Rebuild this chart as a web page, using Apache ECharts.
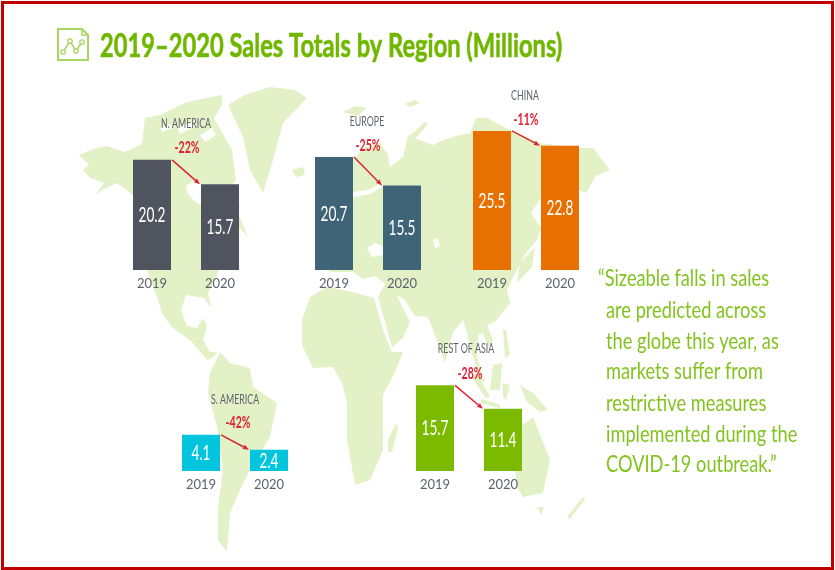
<!DOCTYPE html>
<html><head><meta charset="utf-8">
<style>html,body{margin:0;padding:0;background:#fff}#c{width:835px;height:570px}</style>
<script src="https://cdn.jsdelivr.net/npm/echarts@6/dist/echarts.min.js"></script>
</head><body><div id="c"></div>
<script>
var years = ['2019', '2020'];
var regions = ['N. AMERICA', 'EUROPE', 'CHINA', 'REST OF ASIA', 'S. AMERICA'];
var sales2019 = [20.2, 20.7, 25.5, 15.7, 4.1];
var sales2020 = [15.7, 15.5, 22.8, 11.4, 2.4];
var changes = ['-22%', '-25%', '-11%', '-28%', '-42%'];
var colors = ['#50545f', '#3f6478', '#e87000', '#7cba00', '#00c5dc'];
var titleText = '2019\u20132020 Sales Totals by Region (Millions)';
var quoteLines = ['\u201CSizeable falls in sales', 'are predicted across', 'the globe this year, as', 'markets suffer from', 'restrictive measures', 'implemented during the', 'COVID-19 outbreak.\u201D'];

// layout of each small panel: left, bottom of plot, y max, label positions
var panels = [
  {l: 118, b: 270, max: 27.5, nameXY: [186, 123], pctXY: [187, 148]},
  {l: 300, b: 270, max: 27.5, nameXY: [367, 121], pctXY: [368, 146]},
  {l: 458, b: 270, max: 27.5, nameXY: [525, 95],  pctXY: [526, 120]},
  {l: 401, b: 471, max: 27.5, nameXY: [466, 348], pctXY: [470, 374]},
  {l: 167, b: 471, max: 17,   nameXY: [235, 399], pctXY: [238, 423]}
];

// decorative background world map outline, in page pixels
var land = [
  [[79,155],[93,149],[107,146],[125,152],[142,144],[145,118],[160,115],[187,102],[222,95],[222,105],[214,118],[232,150],[236,180],[228,190],[240,205],[238,213],[248,237],[240,228],[228,245],[218,272],[208,293],[211,308],[204,298],[186,295],[181,310],[187,326],[197,328],[203,318],[207,326],[203,340],[210,352],[218,352],[212,358],[207,360],[192,342],[172,327],[163,315],[155,292],[147,270],[133,195],[117,183],[108,187],[96,194],[104,183],[90,178],[83,170],[89,165]],
  [[228,105],[245,95],[270,87],[295,90],[307,98],[283,123],[273,160],[263,193],[250,170],[243,137]],
  [[292,170],[303,167],[305,175],[296,177]],
  [[320,262],[325,190],[353,160],[355,158],[363,148],[380,143],[388,155],[390,167],[403,157],[408,135],[414,138],[433,145],[443,140],[460,135],[470,133],[476,118],[487,118],[510,130],[540,143],[577,148],[593,148],[610,170],[596,176],[586,193],[578,190],[555,192],[541,198],[531,213],[541,228],[537,240],[526,253],[518,268],[513,277],[507,290],[510,303],[495,322],[487,325],[493,340],[488,347],[483,333],[478,335],[477,357],[485,383],[480,380],[471,350],[467,332],[463,320],[453,332],[445,363],[438,343],[428,317],[415,316],[403,298],[397,296],[410,322],[403,338],[392,347],[378,297],[385,284],[375,276],[363,279],[353,272],[330,272]],
  [[374,298],[383,330],[392,352],[403,352],[395,372],[383,395],[383,430],[383,450],[370,480],[355,485],[347,440],[347,403],[342,383],[333,367],[313,368],[302,345],[302,320],[310,297],[327,287],[353,292]],
  [[388,440],[396,423],[398,428],[392,452],[388,452]],
  [[220,352],[230,363],[250,368],[253,387],[277,403],[270,437],[262,450],[248,473],[240,490],[230,513],[227,552],[218,540],[218,507],[223,470],[217,427],[208,393],[210,373]],
  [[533,417],[550,460],[543,493],[523,497],[517,487],[515,470],[515,440],[520,427]],
  [[537,507],[544,507],[541,515]],
  [[520,385],[533,393],[548,410],[540,412],[527,402]],
  [[583,497],[585,499],[570,519],[567,517]],
  [[493,365],[502,363],[500,390],[490,390]],
  [[503,383],[510,385],[506,400],[503,397]],
  [[503,330],[506,330],[510,355],[505,358]],
  [[482,399],[500,405],[500,408],[480,403]],
  [[476,372],[490,396],[486,398],[472,378]],
  [[517,283],[520,263],[535,247],[532,267]],
  [[343,112],[355,106],[367,108],[358,116]],
  [[408,137],[425,122],[428,124],[416,138]],
  [[405,104],[415,100],[420,103],[410,107]]
];
var water = [
  [[186,186],[193,181],[201,183],[201,205],[193,200],[187,192]],
  [[178,128],[190,122],[195,126],[180,134]],
  [[200,135],[212,128],[216,135],[205,142]],
  [[160,128],[170,124],[172,128],[162,132]],
  [[353,192],[368,190],[380,184],[382,187],[370,194],[353,197]],
  [[367,248],[375,243],[383,246],[383,255],[372,257]],
  [[433,240],[438,238],[440,246],[435,248]]
];

var grids = [], xAxes = [], yAxes = [], series = [], graphics = [];

land.forEach(function (p) { graphics.push({type: 'polygon', silent: true, shape: {points: p}, style: {fill: '#e3f1c6'}}); });
water.forEach(function (p) { graphics.push({type: 'polygon', silent: true, shape: {points: p}, style: {fill: '#ffffff'}}); });

// frame
graphics.push({type: 'rect', silent: true, shape: {x: 2.5, y: 2.5, width: 830, height: 566}, style: {fill: 'none', stroke: '#c00000', lineWidth: 3}});

// icon
graphics.push({type: 'polygon', silent: true, shape: {points: [[58,29],[82,29],[88,35],[88,60],[58,60]]}, style: {fill: 'none', stroke: '#a8d660', lineWidth: 2}});
graphics.push({type: 'polyline', silent: true, shape: {points: [[82,29],[82,35],[88,35]]}, style: {fill: 'none', stroke: '#a8d660', lineWidth: 1.5}});
graphics.push({type: 'polyline', silent: true, shape: {points: [[63,52],[70,41],[76,51],[82,42]]}, style: {fill: 'none', stroke: '#a8d660', lineWidth: 1.5}});
[[63,52],[70,41],[76,51],[82,42]].forEach(function (c) {
  graphics.push({type: 'circle', silent: true, shape: {cx: c[0], cy: c[1], r: 2.2}, style: {fill: '#fff', stroke: '#a8d660', lineWidth: 1.3}});
});

function txt(s, x, y, font, fill, sx, align) {
  return {type: 'text', silent: true, x: x, y: y, scaleX: sx, z: 50,
    style: {text: s, font: font, fill: fill, align: align || 'left', verticalAlign: 'middle'}};
}
var titleEl = txt(titleText, 100, 46, 'bold 33px Lato', '#70b800', 0.718);
titleEl.style.stroke = '#70b800';
titleEl.style.lineWidth = 0.6;
graphics.push(titleEl);
var quoteY = [279, 311, 342, 372, 404, 435, 465];
quoteLines.forEach(function (s, i) {
  graphics.push(txt(s, i === 0 ? 598 : 606, quoteY[i], '23px Lato', '#82c31e', 0.793));
});

function valueText(x, y, v) {
  return {type: 'text', x: x, y: y, scaleX: 0.62,
    style: {text: String(v), font: '22px Lato', fill: '#fff', align: 'center', verticalAlign: 'middle'}};
}

regions.forEach(function (name, i) {
  var p = panels[i];
  grids.push({left: p.l, width: 136, top: p.b - 150, height: 150});
  xAxes.push({type: 'category', gridIndex: i, data: years,
    axisLine: {show: false}, axisTick: {show: false},
    axisLabel: {color: '#5e616c', fontFamily: 'Lato', fontSize: 13, margin: 7}});
  yAxes.push({type: 'value', gridIndex: i, show: false, min: 0, max: p.max});
  series.push({type: 'bar', xAxisIndex: i, yAxisIndex: i, barWidth: 38, silent: true,
    data: [sales2019[i], sales2020[i]],
    itemStyle: {color: colors[i]}});
  series.push({type: 'custom', xAxisIndex: i, yAxisIndex: i, silent: true, z: 5,
    data: [[0, sales2019[i], sales2020[i]]],
    encode: {x: 0, y: 1},
    renderItem: function (params, api) {
      var v0 = api.value(1), v1 = api.value(2);
      var a = api.coord([0, v0]);
      var b = api.coord([1, v1]);
      var m0 = api.coord([0, v0 / 2]);
      var m1 = api.coord([1, v1 / 2]);
      var x0 = a[0] + 20, y0 = a[1], x1 = b[0] - 20, y1 = b[1];
      var ang = Math.atan2(y1 - y0, x1 - x0), L = 6, W = 2.4;
      var bx = x1 - L * Math.cos(ang), by = y1 - L * Math.sin(ang);
      var nx = -Math.sin(ang) * W, ny = Math.cos(ang) * W;
      return {type: 'group', children: [
        {type: 'line', shape: {x1: x0, y1: y0, x2: bx, y2: by}, style: {stroke: '#df2232', lineWidth: 1.5}},
        {type: 'polygon', shape: {points: [[x1, y1], [bx + nx, by + ny], [bx - nx, by - ny]]}, style: {fill: '#df2232'}},
        valueText(m0[0], m0[1], v0),
        valueText(m1[0], m1[1], v1)
      ]};
    }});
  graphics.push(txt(name, p.nameXY[0], p.nameXY[1], '14px Lato', '#5e616c', 0.63, 'center'));
  graphics.push(txt(changes[i], p.pctXY[0], p.pctXY[1], 'bold 17px Lato', '#df2232', 0.62, 'center'));
});

var chart = echarts.init(document.getElementById('c'), null, {renderer: 'canvas', width: 835, height: 570});
chart.setOption({
  animation: false,
  backgroundColor: '#ffffff',
  tooltip: {show: false},
  graphic: {elements: graphics},
  grid: grids, xAxis: xAxes, yAxis: yAxes, series: series
});
</script></body></html>
